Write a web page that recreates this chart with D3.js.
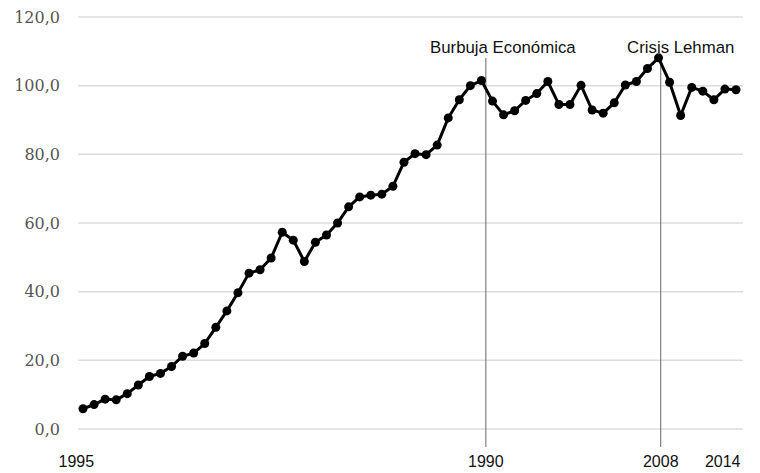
<!DOCTYPE html>
<html>
<head>
<meta charset="utf-8">
<script src="https://cdn.jsdelivr.net/npm/d3@7"></script>
<style>
  html, body { margin: 0; padding: 0; background: #fff; }
  svg { display: block; }
</style>
</head>
<body>
<svg id="chart" width="760" height="473"></svg>
<script>
// Series: one value per period, in order
const values = [
  5.9, 7.1, 8.7, 8.5, 10.3, 12.8, 15.3, 16.2, 18.2, 21.2,
  22.1, 24.9, 29.6, 34.4, 39.7, 45.4, 46.4, 49.8, 57.3, 55.0,
  48.8, 54.4, 56.5, 60.0, 64.7, 67.6, 68.1, 68.4, 70.7, 77.7,
  80.2, 79.9, 82.7, 90.6, 95.9, 100.0, 101.5, 95.5, 91.5, 92.7,
  95.7, 97.7, 101.2, 94.5, 94.5, 100.1, 92.9, 92.0, 95.0, 100.2,
  101.2, 105.0, 108.1, 101.0, 91.3, 99.5, 98.4, 95.9, 99.0, 98.8
];

// Y axis ticks
const yTicks = [0, 20, 40, 60, 80, 100, 120];

// X axis labels and where they sit along the series index
const xTickLabels = ["1995", "1990", "2008", "2014"];
const xTickAt = [-0.6, 36.4, 52.2, 57.8];

// Event markers along the series index
const eventLabels = ["Burbuja Económica", "Crisis Lehman"];
const eventAt = [36.4, 52.2];

const svg = d3.select("#chart");
const W = 760, H = 473;
const margin = { left: 83, right: 24, top: 17, bottom: 44 };

const x = d3.scaleLinear()
  .domain([0, values.length - 1])
  .range([margin.left, W - margin.right]);

const y = d3.scaleLinear()
  .domain([0, 120])
  .range([H - margin.bottom, margin.top]);

// Horizontal gridlines
svg.append("g")
  .selectAll("line")
  .data(yTicks)
  .join("line")
  .attr("x1", 78).attr("x2", 743)
  .attr("y1", d => y(d)).attr("y2", d => y(d))
  .attr("stroke", "#dcdcdc")
  .attr("stroke-width", 1.5);

// Y tick labels
const fmt = d => d3.format(".1f")(d).replace(".", ",");
svg.append("g")
  .selectAll("text")
  .data(yTicks)
  .join("text")
  .attr("x", 60)
  .attr("y", d => y(d))
  .attr("dy", "0.35em")
  .attr("text-anchor", "end")
  .attr("font-family", "'DejaVu Serif', serif")
  .attr("font-size", 16)
  .attr("fill", "#555")
  .text(fmt);

// X tick labels
svg.append("g")
  .selectAll("text")
  .data(xTickLabels)
  .join("text")
  .attr("x", (d, i) => x(xTickAt[i]))
  .attr("y", 467)
  .attr("text-anchor", "middle")
  .attr("font-family", "'Liberation Sans', Arial, sans-serif")
  .attr("font-size", 16)
  .attr("fill", "#111")
  .text(d => d);

// Event marker lines
const labelShift = [17, 20];
svg.append("g")
  .selectAll("line")
  .data(eventAt)
  .join("line")
  .attr("x1", d => x(d)).attr("x2", d => x(d))
  .attr("y1", 58).attr("y2", 447)
  .attr("stroke", "#666")
  .attr("stroke-width", 1);

svg.append("g")
  .selectAll("text")
  .data(eventLabels)
  .join("text")
  .attr("x", (d, i) => x(eventAt[i]) + labelShift[i])
  .attr("y", 52.5)
  .attr("text-anchor", "middle")
  .attr("font-family", "'Liberation Sans', Arial, sans-serif")
  .attr("font-size", 16.8)
  .attr("fill", "#111")
  .text(d => d);

// Series line
const line = d3.line()
  .x((d, i) => x(i))
  .y(d => y(d));

svg.append("path")
  .datum(values)
  .attr("d", line)
  .attr("fill", "none")
  .attr("stroke", "#000")
  .attr("stroke-width", 3)
  .attr("stroke-linejoin", "round");

// Series points
svg.append("g")
  .selectAll("circle")
  .data(values)
  .join("circle")
  .attr("cx", (d, i) => x(i))
  .attr("cy", d => y(d))
  .attr("r", 4.5)
  .attr("fill", "#000");
</script>
</body>
</html>
